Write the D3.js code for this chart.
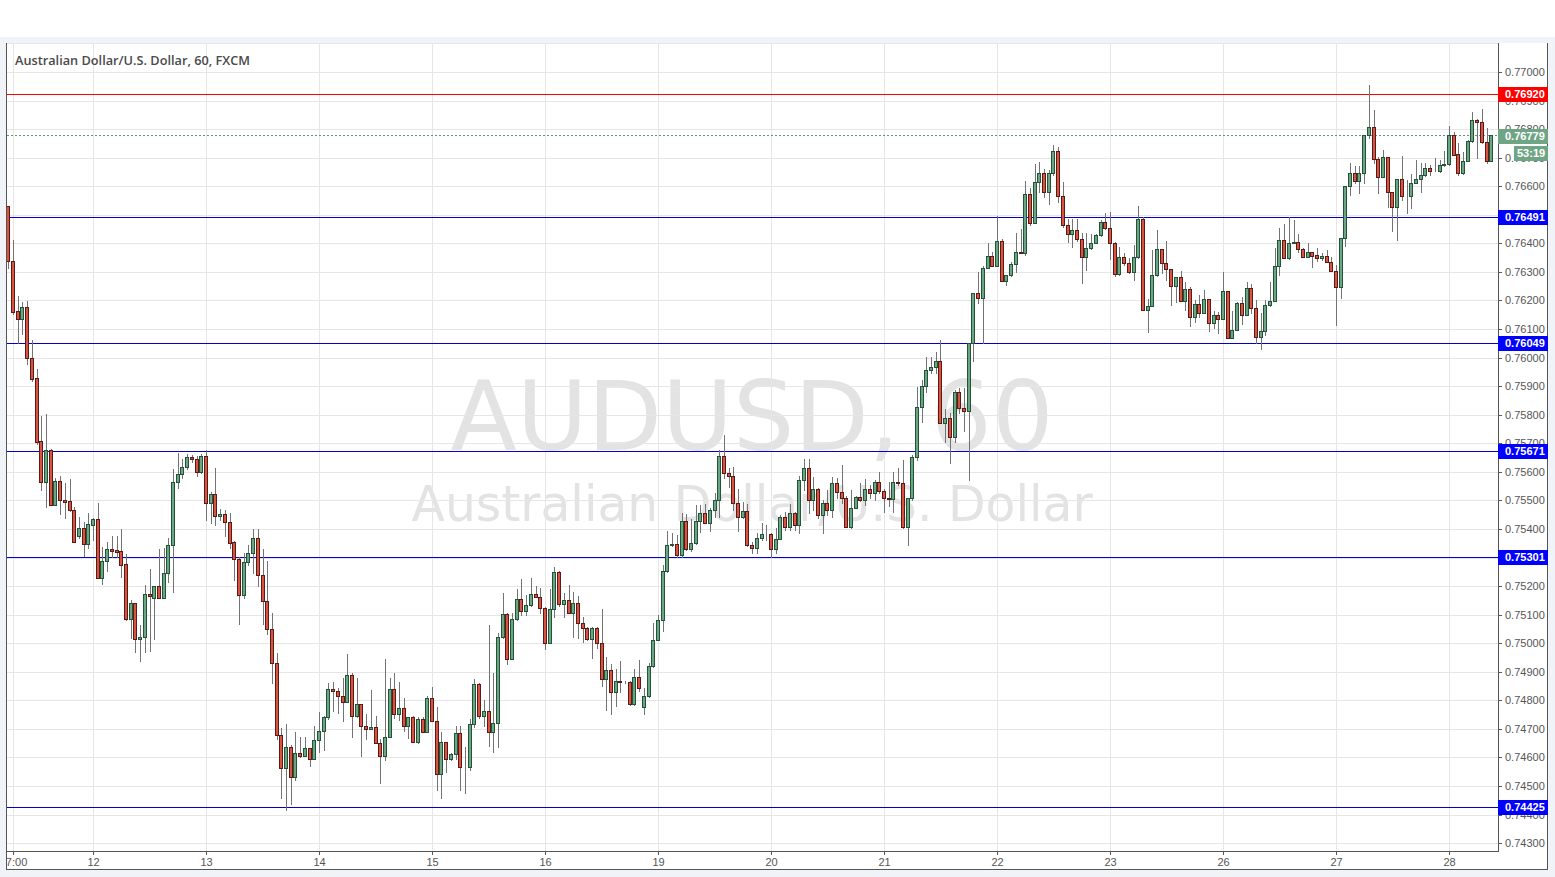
<!DOCTYPE html>
<html><head><meta charset="utf-8">
<script src="https://cdn.jsdelivr.net/npm/d3@7"></script>
<style>html,body{margin:0;padding:0;background:#fff;}svg{display:block;}</style>
</head><body>
<svg id="c" width="1555" height="877"></svg>
<script>
// ---- DATA (AUD/USD hourly candles) ----
const opens = [
.76530,.76337,.76164,.76136,.76176,.75998,.75927,.75707,.75566,.75675,.75485,.75567,.75503,.75498,.75465,.75376,.75402,.75346,.75415,.75434,
.75227,.75288,.75329,.75326,.75323,.75276,.75085,.75141,.75013,.75022,.75171,.75157,.75199,.75157,.75245,.75343,.75563,.75592,.75617,.75653,
.75645,.75600,.75656,.75490,.75523,.75445,.75454,.75423,.75354,.75294,.75168,.75285,.75316,.75369,.75240,.75147,.75051,.74929,.74677,.74562,
.74636,.74532,.74615,.74604,.74633,.74593,.74662,.74692,.74742,.74839,.74831,.74814,.74795,.74887,.74745,.74787,.74710,.74698,.74708,.74649,
.74606,.74670,.74838,.74751,.74772,.74710,.74740,.74655,.74733,.74690,.74807,.74729,.74541,.74655,.74593,.74611,.74684,.74565,.74565,.74716,
.74856,.74745,.74763,.74690,.74719,.75021,.75102,.74945,.75084,.75154,.75114,.75134,.75172,.75163,.75122,.75000,.75119,.75248,.75136,.75151,
.75107,.75140,.75070,.75054,.75016,.75052,.75000,.74874,.74906,.74828,.74868,.74863,.74863,.74786,.74880,.74775,.74815,.74920,.75011,.75081,
.75253,.75343,.75346,.75308,.75428,.75329,.75350,.75428,.75455,.75422,.75466,.75501,.75655,.75595,.75585,.75492,.75443,.75463,.75344,.75332,
.75367,.75381,.75381,.75329,.75365,.75443,.75408,.75455,.75414,.75571,.75615,.75502,.75539,.75449,.75490,.75466,.75560,.75528,.75507,.75408,
.75472,.75511,.75501,.75539,.75525,.75565,.75534,.75510,.75504,.75565,.75560,.75406,.75507,.75651,.75828,.75900,.75957,.75966,.75988,.75772,
.75790,.75723,.75878,.75822,.75814,.76050,.76227,.76208,.76313,.76357,.76321,.76408,.76269,.76289,.76328,.76371,.76365,.76573,.76472,.76614,
.76645,.76581,.76645,.76723,.76567,.76464,.76433,.76447,.76414,.76353,.76383,.76402,.76429,.76474,.76453,.76400,.76291,.76351,.76332,.76301,
.76351,.76484,.76167,.76182,.76289,.76379,.76332,.76309,.76252,.76281,.76199,.76239,.76143,.76188,.76155,.76204,.76120,.76149,.76134,.76233,
.76067,.76097,.76190,.76149,.76243,.76172,.76071,.76093,.76184,.76198,.76321,.76412,.76348,.76400,.76405,.76379,.76353,.76369,.76359,.76348,
.76356,.76336,.76304,.76248,.76418,.76601,.76648,.76620,.76648,.76779,.76806,.76694,.76634,.76701,.76581,.76528,.76624,.76567,.76567,.76612,
.76624,.76639,.76663,.76655,.76655,.76674,.76678,.76779,.76713,.76645,.76688,.76758,.76832,.76824,.76754,.76690];
const highs = [
.76530,.76410,.76216,.76193,.76199,.76061,.75960,.75794,.75802,.75680,.75578,.75585,.75561,.75575,.75478,.75441,.75424,.75455,.75438,.75490,
.75337,.75354,.75376,.75376,.75399,.75312,.75150,.75141,.75063,.75204,.75261,.75199,.75330,.75333,.75368,.75610,.75667,.75645,.75663,.75658,
.75656,.75663,.75676,.75531,.75614,.75469,.75467,.75456,.75358,.75303,.75316,.75344,.75399,.75399,.75330,.75289,.75106,.74966,.74703,.74717,
.74645,.74690,.74670,.74673,.74633,.74710,.74759,.74745,.74861,.74864,.74843,.74878,.74961,.74897,.74878,.74787,.74752,.74836,.74745,.74663,
.74945,.74877,.74894,.74865,.74807,.74743,.74745,.74743,.74743,.74815,.74845,.74778,.74690,.74655,.74614,.74710,.74710,.74638,.74733,.74875,
.74860,.74801,.75064,.74897,.75037,.75175,.75105,.75107,.75189,.75224,.75169,.75227,.75200,.75192,.75126,.75191,.75268,.75254,.75177,.75204,
.75180,.75165,.75093,.75058,.75058,.75056,.75120,.74953,.74926,.74909,.74939,.74866,.74868,.74909,.74941,.74842,.74932,.75070,.75099,.75274,
.75394,.75385,.75379,.75455,.75454,.75435,.75484,.75484,.75486,.75472,.75527,.75676,.75729,.75612,.75616,.75540,.75496,.75487,.75355,.75387,
.75420,.75414,.75385,.75402,.75449,.75460,.75486,.75461,.75585,.75644,.75644,.75583,.75542,.75501,.75536,.75581,.75577,.75624,.75515,.75536,
.75515,.75562,.75574,.75554,.75571,.75601,.75539,.75566,.75601,.75615,.75641,.75507,.75659,.75898,.75922,.76003,.76003,.76021,.76062,.75819,
.75807,.75887,.75895,.75892,.76052,.76227,.76301,.76321,.76400,.76371,.76496,.76414,.76289,.76336,.76437,.76452,.76618,.76593,.76678,.76686,
.76659,.76657,.76744,.76739,.76616,.76484,.76484,.76484,.76435,.76435,.76433,.76433,.76482,.76507,.76511,.76406,.76386,.76367,.76347,.76394,
.76531,.76493,.76204,.76377,.76447,.76379,.76408,.76309,.76283,.76304,.76266,.76248,.76202,.76219,.76237,.76206,.76164,.76161,.76299,.76233,
.76164,.76196,.76211,.76266,.76258,.76202,.76155,.76202,.76266,.76385,.76453,.76468,.76494,.76482,.76433,.76383,.76400,.76371,.76383,.76365,
.76377,.76353,.76324,.76418,.76601,.76683,.76671,.76671,.76779,.76954,.76867,.76704,.76727,.76701,.76581,.76624,.76706,.76622,.76643,.76692,
.76683,.76681,.76674,.76698,.76692,.76725,.76811,.76791,.76750,.76721,.76762,.76861,.76835,.76870,.76803,.76779];
const lows = [
.76313,.76154,.76050,.76082,.75978,.75919,.75697,.75538,.75476,.75483,.75483,.75451,.75440,.75462,.75355,.75370,.75307,.75335,.75362,.75227,
.75207,.75252,.75303,.75301,.75233,.75081,.75019,.74970,.74939,.74970,.74974,.75016,.75157,.75157,.75213,.75178,.75545,.75578,.75611,.75635,
.75586,.75597,.75430,.75420,.75413,.75431,.75376,.75333,.75220,.75067,.75157,.75275,.75247,.75199,.75067,.75033,.74860,.74666,.74458,.74417,
.74438,.74521,.74601,.74604,.74569,.74593,.74618,.74625,.74735,.74763,.74756,.74728,.74795,.74670,.74742,.74604,.74666,.74698,.74649,.74509,
.74591,.74670,.74737,.74731,.74694,.74667,.74655,.74652,.74690,.74690,.74729,.74486,.74459,.74550,.74591,.74593,.74486,.74477,.74556,.74708,
.74737,.74710,.74640,.74620,.74635,.75017,.74926,.74945,.75081,.75099,.75099,.75130,.75161,.75105,.74979,.75000,.75093,.75131,.75091,.75107,
.75023,.75017,.75005,.75011,.74947,.74982,.74850,.74766,.74751,.74780,.74830,.74860,.74784,.74784,.74834,.74751,.74813,.74918,.75011,.75044,
.75250,.75340,.75301,.75303,.75326,.75324,.75347,.75391,.75420,.75394,.75443,.75443,.75577,.75548,.75466,.75394,.75437,.75340,.75315,.75317,
.75361,.75361,.75303,.75315,.75364,.75396,.75396,.75396,.75385,.75536,.75457,.75466,.75437,.75387,.75449,.75443,.75507,.75490,.75408,.75402,
.75472,.75499,.75484,.75507,.75501,.75527,.75460,.75480,.75460,.75554,.75402,.75344,.75501,.75641,.75776,.75881,.75945,.75945,.75772,.75706,
.75630,.75706,.75807,.75744,.75571,.75989,.76190,.76050,.76313,.76321,.76321,.76269,.76254,.76286,.76301,.76365,.76359,.76464,.76470,.76581,
.76563,.76538,.76639,.76546,.76459,.76406,.76386,.76409,.76262,.76307,.76379,.76400,.76426,.76449,.76344,.76286,.76289,.76324,.76295,.76272,
.76348,.76167,.76091,.76182,.76286,.76295,.76272,.76184,.76196,.76199,.76167,.76111,.76126,.76143,.76155,.76093,.76102,.76087,.76134,.76067,
.76067,.76097,.76116,.76149,.76155,.76050,.76029,.76079,.76182,.76198,.76289,.76348,.76344,.76400,.76371,.76353,.76353,.76318,.76339,.76342,
.76336,.76304,.76114,.76207,.76391,.76569,.76613,.76577,.76613,.76768,.76683,.76577,.76634,.76526,.76444,.76412,.76552,.76505,.76525,.76612,
.76581,.76636,.76639,.76655,.76651,.76671,.76674,.76709,.76639,.76643,.76688,.76756,.76698,.76750,.76683,.76690];
const closes = [
.76337,.76161,.76136,.76176,.75998,.75925,.75704,.75566,.75675,.75485,.75567,.75503,.75495,.75465,.75355,.75402,.75346,.75416,.75434,.75227,
.75288,.75329,.75323,.75319,.75275,.75085,.75141,.75013,.75022,.75171,.75166,.75199,.75157,.75245,.75343,.75563,.75592,.75617,.75653,.75645,
.75600,.75656,.75490,.75523,.75445,.75454,.75423,.75351,.75294,.75168,.75285,.75316,.75369,.75240,.75147,.75051,.74929,.74677,.74562,.74636,
.74532,.74615,.74604,.74633,.74593,.74662,.74692,.74742,.74839,.74831,.74814,.74795,.74887,.74745,.74787,.74710,.74698,.74708,.74649,.74606,
.74670,.74838,.74751,.74772,.74710,.74740,.74655,.74733,.74690,.74807,.74729,.74541,.74655,.74593,.74611,.74684,.74565,.74565,.74716,.74856,
.74745,.74763,.74690,.74719,.75021,.75102,.74945,.75084,.75154,.75114,.75134,.75172,.75163,.75122,.75000,.75119,.75248,.75136,.75151,.75107,
.75140,.75070,.75054,.75016,.75052,.75000,.74874,.74906,.74828,.74868,.74863,.74863,.74786,.74880,.74842,.74815,.74920,.75011,.75081,.75253,
.75343,.75346,.75308,.75428,.75329,.75350,.75428,.75455,.75422,.75466,.75501,.75655,.75595,.75585,.75492,.75443,.75463,.75344,.75332,.75367,
.75381,.75381,.75329,.75365,.75443,.75408,.75455,.75414,.75571,.75615,.75502,.75539,.75449,.75490,.75466,.75560,.75528,.75507,.75408,.75472,
.75511,.75501,.75539,.75525,.75565,.75534,.75510,.75504,.75565,.75560,.75406,.75507,.75651,.75828,.75900,.75957,.75966,.75988,.75772,.75790,
.75723,.75878,.75822,.75814,.76050,.76227,.76208,.76313,.76357,.76321,.76408,.76269,.76289,.76328,.76371,.76365,.76573,.76472,.76614,.76645,
.76581,.76645,.76723,.76567,.76464,.76433,.76447,.76414,.76353,.76383,.76402,.76429,.76474,.76453,.76400,.76291,.76351,.76332,.76301,.76351,
.76484,.76167,.76182,.76289,.76379,.76332,.76309,.76252,.76281,.76199,.76239,.76143,.76188,.76155,.76204,.76120,.76149,.76134,.76233,.76067,
.76097,.76190,.76149,.76243,.76172,.76071,.76093,.76184,.76198,.76321,.76412,.76348,.76400,.76405,.76379,.76353,.76369,.76356,.76348,.76356,
.76336,.76304,.76248,.76418,.76601,.76648,.76620,.76648,.76779,.76806,.76694,.76634,.76701,.76581,.76528,.76624,.76567,.76567,.76612,.76624,
.76639,.76663,.76655,.76655,.76674,.76678,.76779,.76709,.76645,.76688,.76758,.76832,.76824,.76754,.76690,.76779];

// time axis: candle index where each label sits, and its text
const tickIndex  = [1, 18, 42, 66, 90, 114, 138, 162, 186, 210, 234, 258, 282, 306];
const tickLabels = ["07:00","12","13","14","15","16","19","20","21","22","23","26","27","28"];
// price axis ticks
const priceTicks = d3.range(74300, 77001, 100).map(v => v / 100000);
// horizontal level lines drawn on the chart
const levelValues = [0.76920, 0.76491, 0.76049, 0.75671, 0.75301, 0.74425];
const levelColors = ["#ff0000", "#0000cc", "#0000cc", "#0000cc", "#0000cc", "#0000cc"];
const levelBoxColors = ["#ff0000", "#0000ff", "#0000ff", "#0000ff", "#0000ff", "#0000ff"];
const lastPrice = 0.76779;
const countdown = "53:19";
const title = "Australian Dollar/U.S. Dollar, 60, FXCM";
const watermark1 = "AUDUSD, 60";
const watermark2 = "Australian Dollar/U.S. Dollar";

// ---- LAYOUT ----
const W = 1555, H = 877;
const P = {left: 7, right: 1498, top: 43, bottom: 851};
const svg = d3.select("#c");
const n = opens.length;
const x = d3.scaleLinear().domain([0, n - 1]).range([8.3, 8.3 + (n - 1) * 4.708]);
const y = d3.scaleLinear().domain([0.743, 0.770]).range([843.1, 72]);
const lineY = v => Math.floor(y(v)) + 0.5;

// page background
svg.append("rect").attr("x", 0).attr("y", 0).attr("width", W).attr("height", H).attr("fill", "#ffffff");
svg.append("rect").attr("x", 0).attr("y", 37).attr("width", W).attr("height", H - 37).attr("fill", "#f0f3f7");
svg.append("rect").attr("x", 6).attr("y", 43).attr("width", 1542).attr("height", 827).attr("fill", "#ffffff");

svg.append("defs").append("clipPath").attr("id", "plotclip")
  .append("rect").attr("x", P.left).attr("y", P.top).attr("width", P.right - P.left).attr("height", P.bottom - P.top);
svg.select("defs").append("clipPath").attr("id", "xaxclip")
  .append("rect").attr("x", P.left).attr("y", P.bottom).attr("width", P.right - P.left).attr("height", 19);

const plot = svg.append("g").attr("clip-path", "url(#plotclip)");

// watermark
plot.append("text").attr("x", 752).attr("y", 450).attr("text-anchor", "middle")
  .attr("font-family", "DejaVu Sans, sans-serif").attr("font-size", 97)
  .attr("textLength", 603).attr("lengthAdjust", "spacingAndGlyphs")
  .attr("fill", "#e3e3e3").text(watermark1);
plot.append("text").attr("x", 752).attr("y", 521).attr("text-anchor", "middle")
  .attr("font-family", "DejaVu Sans, sans-serif").attr("font-size", 49)
  .attr("textLength", 681).attr("lengthAdjust", "spacingAndGlyphs")
  .attr("fill", "#e3e3e3").text(watermark2);

// grid
const gridY = [0.771].concat(priceTicks);
plot.selectAll("line.hg").data(gridY).enter().append("line")
  .attr("x1", P.left).attr("x2", P.right)
  .attr("y1", d => Math.round(y(d)) + 0.5).attr("y2", d => Math.round(y(d)) + 0.5)
  .attr("stroke", "#e6e6e6").attr("stroke-width", 1);
plot.selectAll("line.vg").data(tickIndex).enter().append("line")
  .attr("y1", P.top).attr("y2", P.bottom)
  .attr("x1", d => Math.round(x(d)) + 0.5).attr("x2", d => Math.round(x(d)) + 0.5)
  .attr("stroke", "#e6e6e6").attr("stroke-width", 1);

// title
svg.append("text").attr("x", 15).attr("y", 65)
  .attr("font-family", "Open Sans, Liberation Sans, sans-serif").attr("font-size", 12.5).attr("font-weight", 600)
  .attr("textLength", 235).attr("lengthAdjust", "spacingAndGlyphs")
  .attr("fill", "#4a4a4a").text(title);

// level lines
plot.selectAll("line.lvl").data(levelValues).enter().append("line")
  .attr("x1", P.left).attr("x2", P.right)
  .attr("y1", d => lineY(d)).attr("y2", d => lineY(d))
  .attr("stroke", (d, i) => levelColors[i]).attr("stroke-width", 1);
plot.append("line").attr("x1", P.left).attr("x2", P.right)
  .attr("y1", lineY(lastPrice)).attr("y2", lineY(lastPrice))
  .attr("stroke", "#5f9476").attr("stroke-width", 1).attr("stroke-dasharray", "2,2");

// candles
const idx = d3.range(n);
const cg = plot.append("g");
idx.forEach(i => {
  const cx = Math.round(x(i));
  const o = opens[i], c = closes[i];
  const hi = Math.max(highs[i], o, c), lo = Math.min(lows[i], o, c);
  const up = c >= o;
  cg.append("line").attr("x1", cx + 0.5).attr("x2", cx + 0.5)
    .attr("y1", Math.round(y(hi))).attr("y2", Math.round(y(lo)) + 1)
    .attr("stroke", "#737375").attr("stroke-width", 1);
  const yt = Math.round(y(Math.max(o, c))), yb = Math.round(y(Math.min(o, c)));
  cg.append("rect").attr("x", cx - 1.5).attr("width", 3)
    .attr("y", yt + 0.5).attr("height", Math.max(yb - yt, 0))
    .attr("fill", up ? "#6ba583" : "#d75442")
    .attr("stroke", up ? "#225437" : "#5b1a13").attr("stroke-width", 1);
});

// frame lines
svg.append("line").attr("x1", 6.5).attr("x2", 6.5).attr("y1", 43).attr("y2", 870).attr("stroke", "#555").attr("stroke-width", 1);
svg.append("line").attr("x1", P.right + 0.5).attr("x2", P.right + 0.5).attr("y1", 43).attr("y2", P.bottom + 1).attr("stroke", "#555").attr("stroke-width", 1);
svg.append("line").attr("x1", 6).attr("x2", P.right + 1).attr("y1", P.bottom + 0.5).attr("y2", P.bottom + 0.5).attr("stroke", "#555").attr("stroke-width", 1);
svg.append("line").attr("x1", 6).attr("x2", 1548).attr("y1", 869.5).attr("y2", 869.5).attr("stroke", "#555").attr("stroke-width", 1);
svg.append("line").attr("x1", 1547.5).attr("x2", 1547.5).attr("y1", 43).attr("y2", 870).attr("stroke", "#555").attr("stroke-width", 1);

// price axis
const yax = svg.append("g");
priceTicks.forEach(p => {
  const yy = Math.round(y(p)) + 0.5;
  yax.append("line").attr("x1", P.right).attr("x2", P.right + 4).attr("y1", yy).attr("y2", yy).attr("stroke", "#555");
  yax.append("text").attr("x", 1505).attr("y", yy).attr("dy", "0.36em")
    .attr("font-family", "Liberation Sans, Arial, sans-serif").attr("font-size", 11).attr("fill", "#555")
    .text(d3.format(".5f")(p));
});

// time axis
const xax = svg.append("g");
tickIndex.forEach((t, k) => {
  const xx = Math.round(x(t)) + 0.5;
  xax.append("line").attr("x1", xx).attr("x2", xx).attr("y1", P.bottom).attr("y2", P.bottom + 4).attr("stroke", "#555");
});
xax.append("g").attr("clip-path", "url(#xaxclip)").selectAll("text").data(tickIndex).enter().append("text")
  .attr("x", d => Math.round(x(d)) + 0.5).attr("y", 866).attr("text-anchor", "middle")
  .attr("font-family", "Liberation Sans, Arial, sans-serif").attr("font-size", 11).attr("fill", "#555")
  .text((d, k) => tickLabels[k]);

// price labels on axis
function tag(color, txt, yCenter, x0) {
  svg.append("rect").attr("x", x0).attr("y", yCenter - 7.5).attr("width", 1548 - x0).attr("height", 15).attr("fill", color);
  svg.append("text").attr("x", x0 === 1498 ? 1505 : 1517).attr("y", yCenter).attr("dy", "0.36em")
    .attr("font-family", "Liberation Sans, Arial, sans-serif").attr("font-size", 11).attr("font-weight", "bold")
    .attr("fill", "#fff").text(txt);
}
levelValues.forEach((v, i) => tag(levelBoxColors[i], d3.format(".5f")(v), lineY(v), 1498));
tag("#6fa585", d3.format(".5f")(lastPrice), lineY(lastPrice) + 1, 1498);
tag("#6fa585", countdown, lineY(lastPrice) + 18, 1514);
</script>
</body></html>
